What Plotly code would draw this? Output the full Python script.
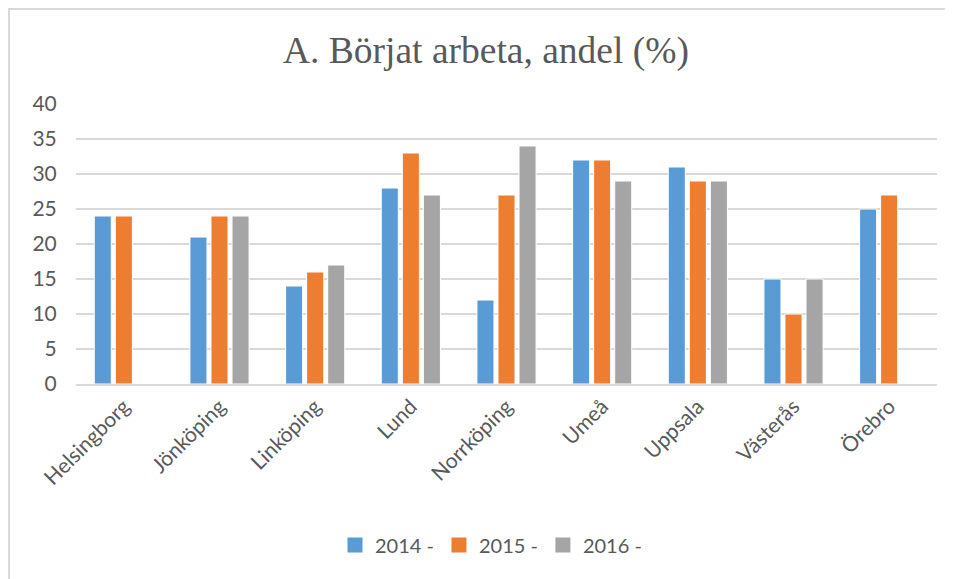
import plotly.graph_objects as go

categories = ["Helsingborg", "Jönköping", "Linköping", "Lund", "Norrköping", "Umeå", "Uppsala", "Västerås", "Örebro"]
series_names = ["2014 -", "2015 -", "2016 -"]
v2014 = [24, 21, 14, 28, 12, 32, 31, 15, 25]
v2015 = [24, 24, 16, 33, 27, 32, 29, 10, 27]
v2016 = [None, 24, 17, 27, 34, 29, 29, 15, None]
colors = ["#5B9BD5", "#ED7D31", "#A5A5A5"]
y_ticks = [0, 5, 10, 15, 20, 25, 30, 35, 40]

fig = go.Figure()
for name, vals, c in zip(series_names, [v2014, v2015, v2016], colors):
    fig.add_trace(go.Bar(x=categories, y=vals, name=name, showlegend=False, legendgroup=name,
                         marker=dict(color=c, line=dict(color="white", width=1))))
# legend entries with larger square swatches
for name, c in zip(series_names, colors):
    fig.add_trace(go.Scatter(x=[None], y=[None], name=name, mode="markers", legendgroup=name,
                             marker=dict(symbol="square", size=15, color=c)))

W, H = 945, 571
l, r, t, b = 68, 16, 96, 195
pw, ph = W - l - r, H - t - b

fig.update_layout(
    width=W, height=H,
    margin=dict(l=l, r=r, t=t, b=b),
    paper_bgcolor="white", plot_bgcolor="white",
    barmode="group", bargap=0.34, bargroupgap=0.19,
    title=dict(text="A. Börjat arbeta, andel (%)", x=478 / W, xref="container", xanchor="center",
               y=1 - 42 / H, yanchor="middle",
               font=dict(family="Liberation Serif", size=37.5, color="#595959")),
    font=dict(family="Lato", size=20, color="#595959"),
    showlegend=True,
    legend=dict(orientation="h", x=0.482, xanchor="center", y=(376 - 537) / ph, yanchor="middle",
                font=dict(family="Lato", size=20, color="#595959"), itemwidth=30,
                traceorder="normal"),
    xaxis=dict(tickangle=-45, showgrid=False, showline=True, linecolor="#D9D9D9", linewidth=2,
               tickfont=dict(family="Lato", size=21, color="#595959"), ticks=""),
    yaxis=dict(range=[0, 40], tickvals=y_ticks, showgrid=True, gridcolor="#D9D9D9", gridwidth=2,
               zeroline=False, showline=False, ticks="outside", ticklen=14,
               tickcolor="rgba(0,0,0,0)",
               tickfont=dict(family="Lato", size=21, color="#595959")),
    shapes=[dict(type="rect", xref="paper", yref="paper",
                 x0=(1 - l) / pw, x1=(W + 10 - l) / pw,
                 y0=(H - b - (H + 10)) / ph, y1=(H - b - 1) / ph,
                 line=dict(color="#D9D9D9", width=2), fillcolor="rgba(0,0,0,0)", layer="below")],
)
fig.write_html("out.html")
